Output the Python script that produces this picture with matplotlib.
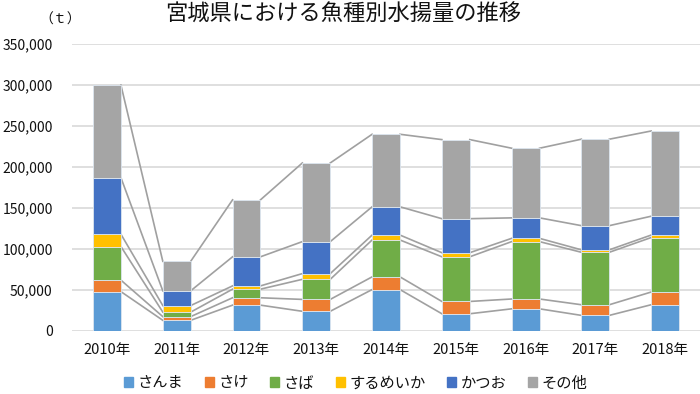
import matplotlib.pyplot as plt
from matplotlib.patches import Patch
from matplotlib.ticker import FuncFormatter
import numpy as np

plt.rcParams['font.family'] = ['Noto Sans CJK JP', 'DejaVu Sans']

# data (t)
years = ['2010年', '2011年', '2012年', '2013年', '2014年', '2015年', '2016年', '2017年', '2018年']
species = ['さんま', 'さけ', 'さば', 'するめいか', 'かつお', 'その他']
sanma = [48000, 13000, 31500, 24000, 50500, 21000, 27000, 19000, 32000]
sake = [14000, 4500, 9000, 14500, 15500, 15000, 12000, 13000, 15500]
saba = [41000, 5500, 10500, 24500, 45000, 54500, 70000, 64000, 66500]
surume = [15000, 8000, 4000, 7000, 6000, 5000, 4000, 3000, 3000]
katsuo = [69000, 18000, 35500, 39000, 34500, 41500, 25000, 29500, 23000]
sonota = [113000, 36000, 69500, 96000, 88500, 96500, 85000, 105500, 104000]
colors = ['#5B9BD5', '#ED7D31', '#70AD47', '#FFC000', '#4472C4', '#A5A5A5']

series = [sanma, sake, saba, surume, katsuo, sonota]

fig = plt.figure(figsize=(7, 3.94), dpi=100)
ax = fig.add_axes([0.103, 0.16, 0.897, 0.728])

x = np.arange(len(years))
w = 0.4
bottom = np.zeros(len(years))
for vals, c in zip(series, colors):
    ax.bar(x, vals, w, bottom=bottom, color=c, edgecolor='#DCE6F0', linewidth=0.6, zorder=3)
    bottom = bottom + np.array(vals)
    # series lines between bars
    for i in range(len(years) - 1):
        ax.plot([x[i] + w / 2, x[i + 1] - w / 2], [bottom[i], bottom[i + 1]],
                color='#A0A0A0', lw=1.2, zorder=2)

ax.set_xlim(-0.5, len(years) - 0.5)
ax.set_ylim(0, 350000)
ax.set_yticks(range(0, 350001, 50000))
ax.yaxis.set_major_formatter(FuncFormatter(lambda v, p: f'{int(v):,}'))
ax.set_xticks(x)
ax.set_xticklabels(years)
ax.tick_params(axis='both', length=0, colors='#111111')
ax.tick_params(axis='x', pad=9, labelsize=10.5)
ax.tick_params(axis='y', pad=14, labelsize=10)
ax.grid(axis='y', color='#D9D9D9', lw=1.2, zorder=0)
for s in ax.spines.values():
    s.set_visible(False)

fig.text(0.49, 0.963, '宮城県における魚種別水揚量の推移', ha='center', va='center',
         fontsize=16, color='#111111')
fig.text(0.086, 0.95, '（ｔ）', ha='center', va='center', fontsize=10, color='#111111')

handles = [Patch(color=c) for c in colors]
fig.legend(handles, species, loc='center', bbox_to_anchor=(0.508, 0.028), ncol=6,
           frameon=False, fontsize=11, handlelength=0.6, handleheight=0.6,
           handletextpad=0.3, columnspacing=1.4, labelcolor='#111111')

fig.savefig('out.png', dpi=100)
